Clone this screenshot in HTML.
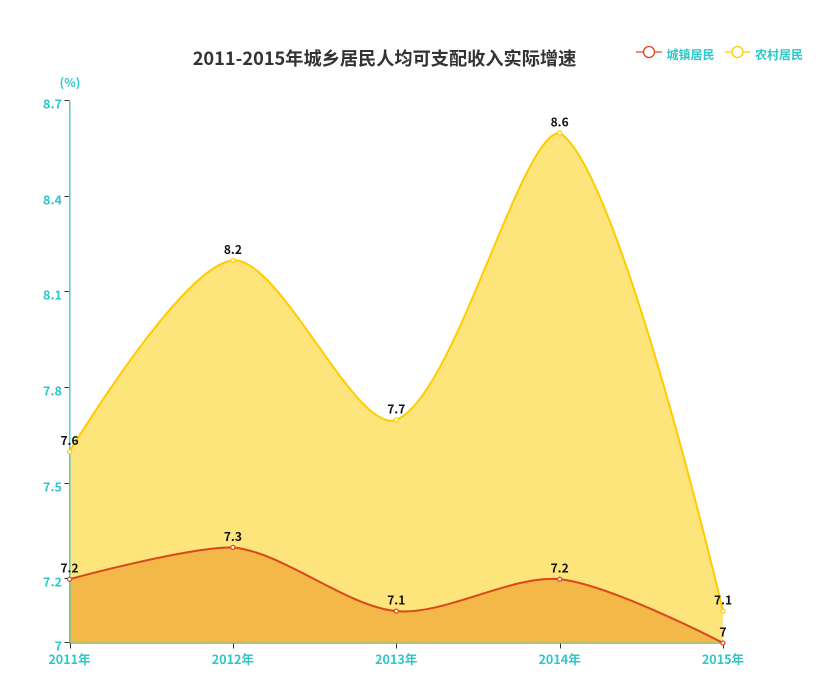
<!DOCTYPE html>
<html>
<head>
<meta charset="utf-8">
<style>
html,body{margin:0;padding:0;background:#fff;width:838px;height:695px;overflow:hidden}
svg{display:block}
text{font-family:"Noto Sans CJK SC","Liberation Sans",sans-serif;font-weight:700}
</style>
</head>
<body>
<svg id="chart" width="838" height="695" viewBox="0 0 838 695" xmlns="http://www.w3.org/2000/svg">
  <text x="384.5" y="65" text-anchor="middle" font-size="18.2" fill="#333333">2011-2015年城乡居民人均可支配收入实际增速</text>
  <text x="70" y="87" text-anchor="middle" font-size="12" fill="#2ec7c9">(%)</text>
  <g id="plot"></g>
  <g>
    <line x1="636" y1="52" x2="662" y2="52" stroke="#d9481c" stroke-opacity="0.6" stroke-width="2"/>
    <circle cx="649" cy="52" r="5.5" fill="#fff" stroke="#d9481c" stroke-width="1.3"/>
    <text x="666.5" y="59" font-size="12" fill="#2ec7c9">城镇居民</text>
  </g>
  <g>
    <line x1="725" y1="52" x2="750" y2="52" stroke="#ffcc00" stroke-opacity="0.6" stroke-width="2"/>
    <circle cx="737.5" cy="52" r="5.5" fill="#fff" stroke="#ffcc00" stroke-width="1.3"/>
    <text x="755" y="59" font-size="12" fill="#2ec7c9">农村居民</text>
  </g>
</svg>
<script>
const categories = ['2011年', '2012年', '2013年', '2014年', '2015年'];
const urbanValues = [7.2, 7.3, 7.1, 7.2, 7];
const ruralValues = [7.6, 8.2, 7.7, 8.6, 7.1];
const yTickValues = [7, 7.2, 7.5, 7.8, 8.1, 8.4, 8.7];

const NS = 'http://www.w3.org/2000/svg';
const plot = document.getElementById('plot');
const left = 69.5, right = 723, top_ = 101, bottom = 643;
const yMin = 7, yMax = 8.7;
const xScale = i => left + (right - left) * i / (categories.length - 1);
const yScale = v => bottom - (v - yMin) / (yMax - yMin) * (bottom - top_);

function make(tag, attrs, parent) {
  const el = document.createElementNS(NS, tag);
  for (const k in attrs) el.setAttribute(k, attrs[k]);
  (parent || plot).appendChild(el);
  return el;
}

function smoothPath(pts) {
  const s = 0.3;
  const xs = pts.map(p => p[0]), ys = pts.map(p => p[1]);
  const minX = Math.min(...xs), maxX = Math.max(...xs);
  const minY = Math.min(...ys), maxY = Math.max(...ys);
  const clamp = (v, a, b) => Math.max(a, Math.min(b, v));
  const outC = [], inC = [];
  pts.forEach((p, i) => {
    if (i === 0 || i === pts.length - 1) { outC[i] = p; inC[i] = p; return; }
    const pr = pts[i - 1], nx = pts[i + 1];
    const vx = nx[0] - pr[0], vy = nx[1] - pr[1];
    const d0 = Math.hypot(p[0] - pr[0], p[1] - pr[1]);
    const d1 = Math.hypot(nx[0] - p[0], nx[1] - p[1]);
    const r = d1 / (d0 + d1);
    inC[i] = [clamp(p[0] - vx * s * (1 - r), minX, maxX), clamp(p[1] - vy * s * (1 - r), minY, maxY)];
    outC[i] = [clamp(p[0] + vx * s * r, minX, maxX), clamp(p[1] + vy * s * r, minY, maxY)];
  });
  let d = 'M' + pts[0][0] + ' ' + pts[0][1];
  for (let i = 1; i < pts.length; i++) {
    d += ' C' + outC[i - 1].join(' ') + ' ' + inC[i].join(' ') + ' ' + pts[i].join(' ');
  }
  return d;
}

function drawArea(values, color, key, opacity) {
  const pts = values.map((v, i) => [xScale(i), yScale(v)]);
  const d = smoothPath(pts);
  const area = make('path', { d: d + ' L' + xScale(values.length - 1) + ' ' + bottom + ' L' + xScale(0) + ' ' + bottom + ' Z', fill: color, 'fill-opacity': opacity, stroke: 'none' });
  
  
}

function drawLine(values, color, key) {
  const pts = values.map((v, i) => [xScale(i), yScale(v)]);
  const line = make('path', { d: smoothPath(pts), fill: 'none', stroke: color, 'stroke-width': 2 });
  
  
  pts.forEach((p, i) => {
    const c = make('circle', { cx: p[0], cy: p[1], r: 2, fill: '#fff', stroke: color, 'stroke-width': 1.2 });
    
    
    const t = make('text', { x: p[0], y: p[1] - 6.5, 'text-anchor': 'middle', 'font-size': 12, fill: '#111' });
    t.textContent = String(values[i]);
    
    
  });
}

drawArea(ruralValues, '#fbce0e', 'rural', 0.55);
drawArea(urbanValues, '#ed941f', 'urban', 0.55);

yTickValues.forEach(v => {
  const y = Math.round(yScale(v)) - 0.5;
  const tick = make('line', { x1: left - 5, y1: y, x2: left, y2: y, stroke: '#333', 'stroke-width': 1 });
  
  
  const label = make('text', { x: left - 7.5, y: y + 8, 'text-anchor': 'end', 'font-size': 12.6, fill: '#2ec7c9' });
  label.textContent = String(v);
  
  
});

const yAxis = make('line', { x1: left + 0.25, y1: top_, x2: left + 0.25, y2: bottom + 1, stroke: '#2ec7c9', 'stroke-width': 1.5, 'stroke-opacity': 0.85 });


const xAxis = make('line', { x1: left, y1: bottom + 0.25, x2: right, y2: bottom + 0.25, stroke: '#2ec7c9', 'stroke-width': 1.5, 'stroke-opacity': 0.7 });



categories.forEach((c, i) => {
  const x = Math.round(xScale(i)) + 0.5;
  const tick = make('line', { x1: x, y1: bottom + 0.5, x2: x, y2: bottom + 5.5, stroke: '#333', 'stroke-width': 1 });
  
  
  const label = make('text', { x: xScale(i), y: 664, 'text-anchor': 'middle', 'font-size': 12.6, fill: '#2ec7c9' });
  label.textContent = c;
  
  
});

drawLine(ruralValues, '#ffcc00', 'rural');
drawLine(urbanValues, '#d9481c', 'urban');
</script>
</body>
</html>
